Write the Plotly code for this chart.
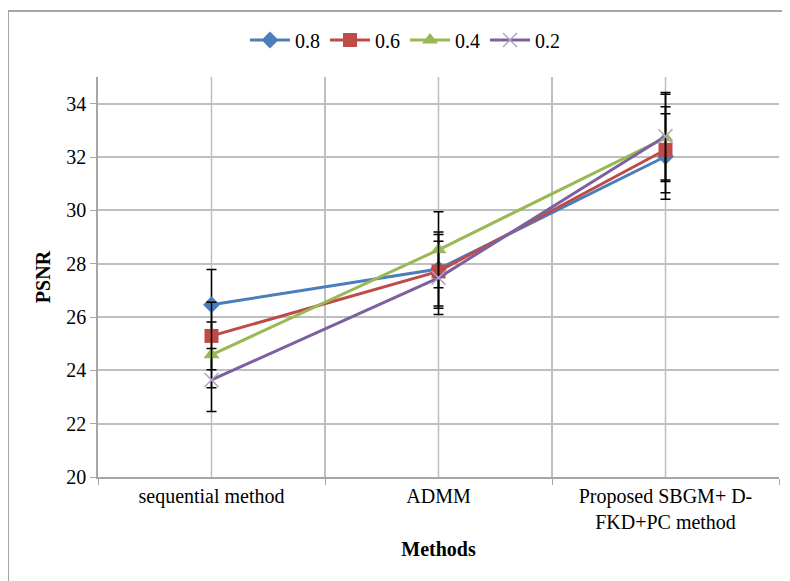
import plotly.graph_objects as go

categories = ["sequential method", "ADMM", "Proposed SBGM+ D-<br>FKD+PC method"]
series_names = ["0.8", "0.6", "0.4", "0.2"]
psnr_08 = [26.46, 27.80, 32.02]
psnr_06 = [25.29, 27.71, 32.27]
psnr_04 = [24.58, 28.52, 32.72]
psnr_02 = [23.64, 27.47, 32.78]
error_percent = 5
y_ticks = [20, 22, 24, 26, 28, 30, 32, 34]

colors = ["#4A7EBB", "#BE4B48", "#98B954", "#7D60A0"]
symbols = ["diamond", "square", "triangle-up", "x-thin-open"]
sizes = [13, 14, 14, 14]

fig = go.Figure()
for name, vals, c, s, sz in zip(series_names, [psnr_08, psnr_06, psnr_04, psnr_02], colors, symbols, sizes):
    marker = dict(symbol=s, size=sz, color=c)
    if s == "x-thin-open":
        marker = dict(symbol=s, size=sz, color="#B3A2C7", line=dict(color="#B3A2C7", width=1.5))
    fig.add_trace(go.Scatter(
        x=categories, y=vals, name=name, mode="lines+markers",
        line=dict(color=c, width=3), marker=marker,
        error_y=dict(type="percent", value=error_percent, color="black", thickness=1.5, width=5),
    ))

# vertical gridlines at category centers
for c in categories:
    fig.add_shape(type="line", xref="x", yref="paper", x0=c, x1=c, y0=0, y1=1,
                  line=dict(color="#BFBFBF", width=1.5), layer="below")

# page has an 8px body offset; work in screen pixels and convert
OFF = 8
FW, FH = 790, 581
L, R, T, B = 98 - OFF, 779 - OFF, 77 - OFF, 477 - OFF
W, H = R - L, B - T
def px(x): return (x - OFF - L) / W
def py(y): return (B - (y - OFF)) / H
fig.add_shape(type="line", xref="paper", yref="paper", x0=px(8), x1=px(820), y0=py(11), y1=py(11),
              line=dict(color="#A6A6A6", width=2))
fig.add_shape(type="line", xref="paper", yref="paper", x0=px(8), x1=px(8), y0=py(11), y1=py(600),
              line=dict(color="#A6A6A6", width=2))

font_family = "Liberation Serif"
fig.update_layout(
    width=FW, height=FH,
    margin=dict(l=L, r=FW - R, t=T, b=FH - B, autoexpand=False),
    paper_bgcolor="white", plot_bgcolor="white",
    font=dict(family=font_family, size=20, color="black"),
    showlegend=True,
    legend=dict(orientation="h", x=px(405), xanchor="center", y=py(40), yanchor="middle",
                font=dict(family=font_family, size=20), itemwidth=40, traceorder="normal"),
    xaxis=dict(
        type="category", range=[-0.5, 2.5], tickson="boundaries",
        showgrid=True, gridcolor="#BFBFBF", gridwidth=1.5,
        showline=True, linecolor="#A6A6A6", linewidth=1.5,
        ticks="outside", ticklen=6, tickcolor="#A6A6A6",
        tickfont=dict(family=font_family, size=20),
        title=dict(text="<b>Methods</b>", font=dict(family=font_family, size=20), standoff=10),
        zeroline=False,
    ),
    yaxis=dict(
        range=[20, 35], tickvals=y_ticks,
        showgrid=True, gridcolor="#BFBFBF", gridwidth=1.5,
        showline=True, linecolor="#A6A6A6", linewidth=1.5,
        ticks="outside", ticklen=6, tickcolor="#A6A6A6",
        tickfont=dict(family=font_family, size=20),
        title=dict(text="<b>PSNR</b>", font=dict(family=font_family, size=20), standoff=10),
        zeroline=False,
    ),
)

fig.write_html("out.html")
